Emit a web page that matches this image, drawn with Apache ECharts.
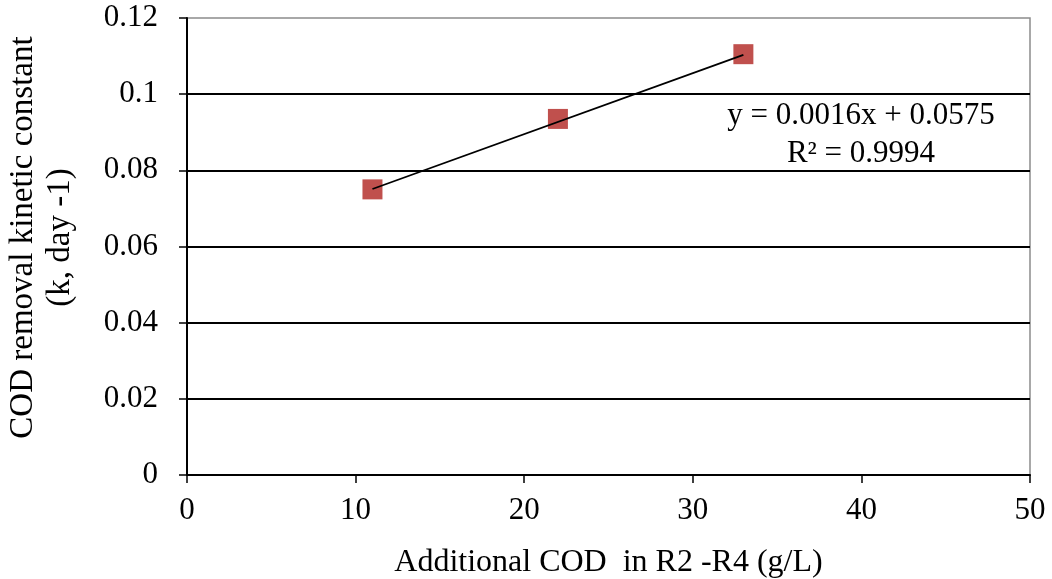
<!DOCTYPE html>
<html>
<head>
<meta charset="utf-8">
<script src="https://cdn.jsdelivr.net/npm/echarts@6/dist/echarts.min.js"></script>
<style>
  html, body { margin: 0; padding: 0; background: #fff; }
  #chart { width: 1052px; height: 579px; }
</style>
</head>
<body>
<div id="chart"></div>
<script>
// measured points
var codAdded = [11, 22, 33]
var kValues = [0.075, 0.0935, 0.1105]
// linear fit shown on the chart
var slope = 0.0016
var intercept = 0.0575
var equationText = 'y = 0.0016x + 0.0575'
var r2Text = 'R² = 0.9994'

var points = codAdded.map(function (x, i) { return [x, kValues[i]] })
var xMin = codAdded[0]
var xMax = codAdded[codAdded.length - 1]
var trend = [[xMin, slope * xMin + intercept], [xMax, slope * xMax + intercept]]

var font = 'Liberation Serif'
var myChart = echarts.init(document.getElementById('chart'))
myChart.setOption({
  animation: false,
  textStyle: { fontFamily: font },
  grid: {
    left: 187, right: 22, top: 18, bottom: 104,
    containLabel: false,
    outerBoundsMode: 'none',
    show: true, borderColor: '#8c8c8c', borderWidth: 1.5
  },
  xAxis: {
    type: 'value',
    min: 0, max: 50, interval: 10,
    name: 'Additional COD  in R2 -R4 (g/L)',
    nameLocation: 'middle',
    nameGap: 72,
    nameTextStyle: { fontFamily: font, fontSize: 32, color: '#000' },
    axisLine: { show: true, onZero: false, lineStyle: { color: '#000', width: 2 } },
    axisTick: { show: true, inside: false, length: 8, lineStyle: { color: '#000', width: 1.5 } },
    axisLabel: { fontFamily: font, fontSize: 31, color: '#000', margin: 20 },
    splitLine: { show: false }
  },
  yAxis: {
    type: 'value',
    min: 0, max: 0.12, interval: 0.02,
    name: 'COD removal kinetic constant\n(k, day -1)',
    nameLocation: 'middle',
    nameRotate: 90,
    nameGap: 108,
    nameTextStyle: {
      fontFamily: font, fontSize: 33, color: '#000', lineHeight: 37,
      padding: [0, 0, 0, 18]
    },
    axisLine: { show: true, onZero: false, lineStyle: { color: '#000', width: 2 } },
    axisTick: { show: true, inside: false, length: 8, lineStyle: { color: '#000', width: 1.5 } },
    axisLabel: { fontFamily: font, fontSize: 31, color: '#000', margin: 29 },
    splitLine: { show: true, showMaxLine: false, lineStyle: { color: '#000', width: 1.8 } }
  },
  series: [
    {
      type: 'scatter',
      data: points,
      symbol: 'rect',
      symbolSize: 20,
      itemStyle: { color: '#C0504D', opacity: 1 },
      z: 2
    },
    {
      type: 'line',
      data: trend,
      showSymbol: false,
      lineStyle: { color: '#000', width: 1.8 },
      z: 3
    }
  ],
  graphic: [
    {
      type: 'text',
      x: 861, y: 116,
      style: {
        text: equationText,
        font: '31px "Liberation Serif"',
        fill: '#000',
        align: 'center',
        verticalAlign: 'middle'
      }
    },
    {
      type: 'text',
      x: 861, y: 154,
      style: {
        text: r2Text,
        font: '31px "Liberation Serif"',
        fill: '#000',
        align: 'center',
        verticalAlign: 'middle'
      }
    }
  ]
})
</script>
</body>
</html>
